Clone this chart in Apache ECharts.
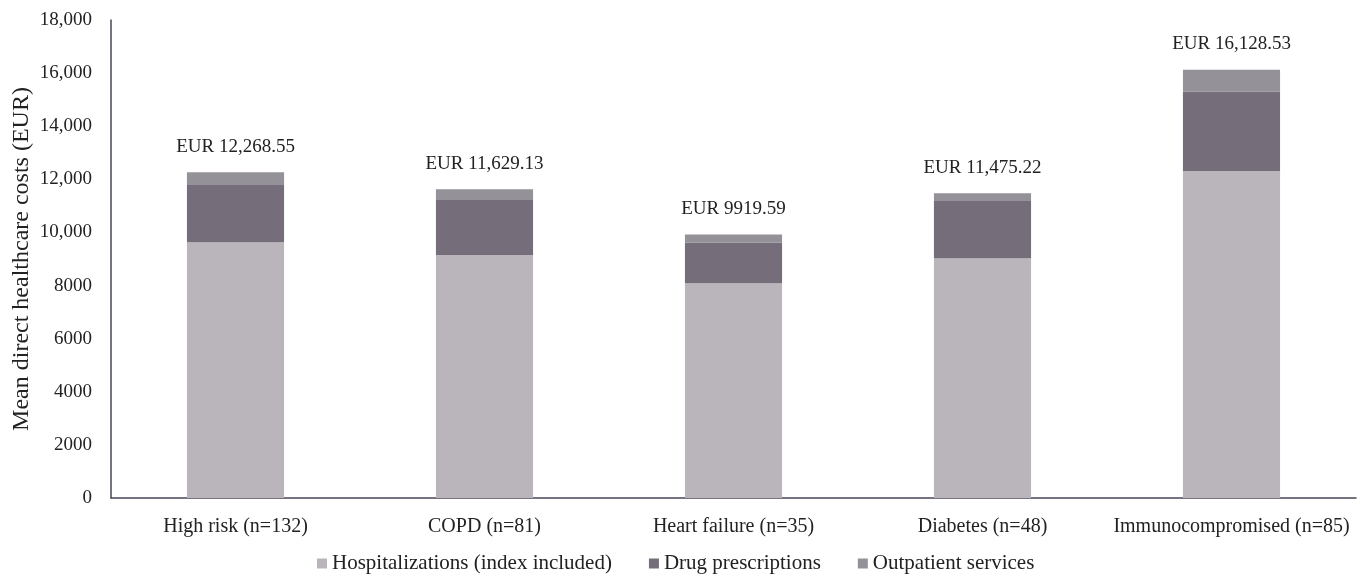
<!DOCTYPE html>
<html>
<head>
<meta charset="utf-8">
<script src="https://cdn.jsdelivr.net/npm/echarts@6/dist/echarts.min.js"></script>
<style>
  html, body { margin: 0; padding: 0; background: #fff; }
  #chart { width: 1357px; height: 582px; }
</style>
</head>
<body>
<div id="chart"></div>
<script>
// Patient groups on the x axis
const categories = ['High risk (n=132)', 'COPD (n=81)', 'Heart failure (n=35)', 'Diabetes (n=48)', 'Immunocompromised (n=85)'];

// Mean cost components per group (EUR)
const hospitalizations = [9627, 9149, 8083, 9024, 12312];
const drugPrescriptions = [2158, 2097, 1529, 2158, 2985];
const outpatientServices = [483.55, 383.13, 307.59, 293.22, 831.53];

// Total mean cost per group, printed above each bar
const totals = [12268.55, 11629.13, 9919.59, 11475.22, 16128.53];
const totalLabels = ['EUR 12,268.55', 'EUR 11,629.13', 'EUR 9919.59', 'EUR 11,475.22', 'EUR 16,128.53'];

const seriesNames = ['Hospitalizations (index included)', 'Drug prescriptions', 'Outpatient services'];
const colors = ['#bab5bb', '#766d7a', '#959199'];

const FONT = "'Liberation Serif', 'DejaVu Serif', serif";
const TEXT = '#222222';

const chart = echarts.init(document.getElementById('chart'), null, { renderer: 'canvas' });

function yLabel(v) {
  // thousands separator only from five digits up
  return v >= 10000 ? v.toLocaleString('en-US') : String(v);
}

chart.setOption({
  animation: false,
  color: colors,
  grid: { left: 111, right: 1, top: 20, bottom: 84, containLabel: false, outerBoundsMode: 'none' },
  legend: {
    data: seriesNames,
    bottom: 3,
    left: 312,
    itemWidth: 10,
    itemHeight: 10,
    itemGap: 37,
    icon: 'rect',
    textStyle: { fontFamily: FONT, fontSize: 21, color: TEXT }
  },
  xAxis: {
    type: 'category',
    data: categories,
    axisLine: { lineStyle: { color: '#4b4458', width: 1.5 } },
    axisTick: { show: false },
    axisLabel: { fontFamily: FONT, fontSize: 20, color: TEXT, margin: 19, interval: 0 }
  },
  yAxis: {
    type: 'value',
    min: 0,
    max: 18000,
    interval: 2000,
    name: 'Mean direct healthcare costs (EUR)',
    nameLocation: 'middle',
    nameGap: 77,
    nameMoveOverlap: false,
    nameTextStyle: { fontFamily: FONT, fontSize: 24, color: TEXT },
    axisLine: { show: true, lineStyle: { color: '#4b4458', width: 1.5 } },
    axisTick: { show: false },
    splitLine: { show: false },
    axisLabel: { fontFamily: FONT, fontSize: 19, color: TEXT, margin: 19, formatter: yLabel }
  },
  series: [
    {
      name: seriesNames[0], type: 'bar', stack: 'cost', barWidth: '39%',
      data: hospitalizations
    },
    {
      name: seriesNames[1], type: 'bar', stack: 'cost',
      data: drugPrescriptions
    },
    {
      name: seriesNames[2], type: 'bar', stack: 'cost',
      data: outpatientServices,
      label: {
        show: true,
        position: 'top',
        distance: 16,
        fontFamily: FONT,
        fontSize: 19,
        color: TEXT,
        formatter: p => totalLabels[p.dataIndex]
      }
    }
  ]
});
</script>
</body>
</html>
